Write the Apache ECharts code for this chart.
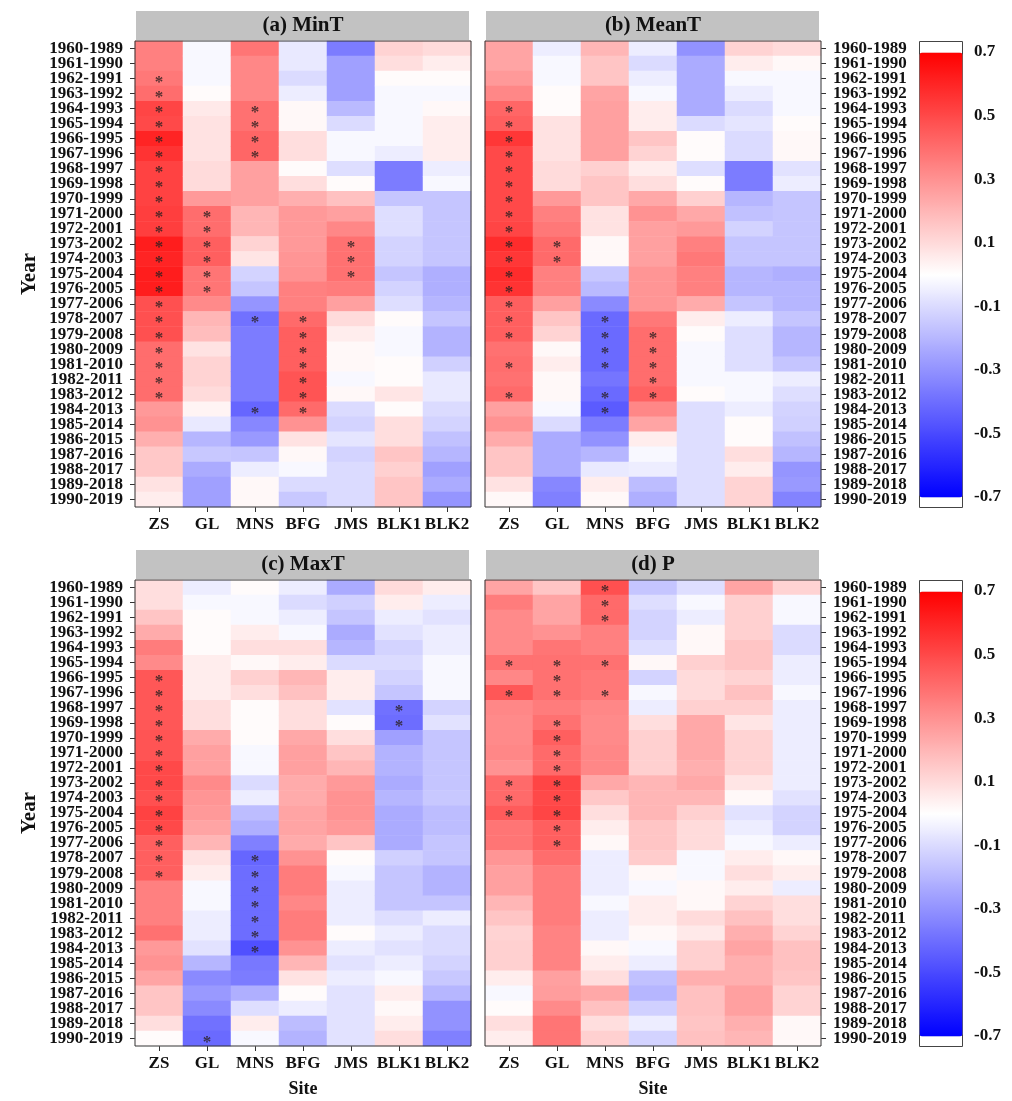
<!DOCTYPE html>
<html><head><meta charset="utf-8">
<script src="https://cdn.jsdelivr.net/npm/echarts/dist/echarts.min.js"></script>
<style>html,body{margin:0;padding:0;background:#fff}#c{width:1012px;height:1101px}</style>
</head><body><div id="c"></div><script>
const SITES = ['ZS','GL','MNS','BFG','JMS','BLK1','BLK2'];
const YEARS = ['1960-1989','1961-1990','1962-1991','1963-1992','1964-1993','1965-1994','1966-1995','1967-1996',
  '1968-1997','1969-1998','1970-1999','1971-2000','1972-2001','1973-2002','1974-2003','1975-2004','1976-2005',
  '1977-2006','1978-2007','1979-2008','1980-2009','1981-2010','1982-2011','1983-2012','1984-2013','1985-2014',
  '1986-2015','1987-2016','1988-2017','1989-2018','1990-2019'];
const TITLES = ['(a) MinT','(b) MeanT','(c) MaxT','(d) P'];
const CBAR_TICKS = [-0.7,-0.5,-0.3,-0.1,0.1,0.3,0.5,0.7];

// (a) MinT, one row per site (ZS, GL, MNS, BFG, JMS, BLK1, BLK2), 31 moving windows each
const MINT = [
 [0.35,0.35,0.37,0.40,0.51,0.50,0.60,0.56,0.52,0.52,0.52,0.53,0.53,0.62,0.60,0.62,0.62,0.48,0.48,0.48,0.40,0.40,0.40,0.40,0.28,0.30,0.22,0.15,0.15,0.08,0.05],
 [-0.02,-0.02,-0.02,0.01,0.06,0.08,0.08,0.08,0.10,0.10,0.28,0.40,0.40,0.44,0.44,0.38,0.38,0.32,0.20,0.18,0.08,0.12,0.12,0.10,0.03,-0.06,-0.20,-0.15,-0.23,-0.26,-0.26],
 [0.38,0.33,0.33,0.33,0.39,0.39,0.42,0.42,0.26,0.26,0.26,0.20,0.20,0.12,0.07,-0.12,-0.16,-0.29,-0.39,-0.36,-0.36,-0.36,-0.36,-0.36,-0.42,-0.33,-0.28,-0.16,-0.05,0.02,0.02],
 [-0.06,-0.06,-0.10,-0.05,0.02,0.02,0.09,0.09,0.01,0.09,0.22,0.28,0.28,0.28,0.29,0.30,0.35,0.35,0.41,0.44,0.44,0.44,0.47,0.47,0.41,0.30,0.08,0.02,-0.02,-0.10,-0.15],
 [-0.36,-0.26,-0.26,-0.26,-0.19,-0.10,-0.02,-0.02,-0.09,0.01,0.17,0.26,0.33,0.39,0.39,0.39,0.36,0.26,0.10,0.05,0.02,0.02,-0.02,0.02,-0.10,-0.12,-0.07,-0.12,-0.10,-0.10,-0.10],
 [0.12,0.09,0.01,-0.02,-0.02,-0.02,-0.02,-0.05,-0.36,-0.36,-0.16,-0.09,-0.09,-0.12,-0.12,-0.16,-0.12,-0.09,0.01,-0.02,-0.02,0.01,0.01,0.07,0.01,0.09,0.09,0.16,0.13,0.16,0.16],
 [0.10,0.05,0.01,-0.02,0.02,0.05,0.05,0.05,-0.05,-0.02,-0.16,-0.16,-0.16,-0.16,-0.16,-0.22,-0.22,-0.20,-0.16,-0.21,-0.21,-0.13,-0.06,-0.06,-0.10,-0.12,-0.17,-0.20,-0.26,-0.23,-0.29]
];
// (b) MeanT
const MEANT = [
 [0.25,0.25,0.28,0.33,0.42,0.44,0.55,0.50,0.50,0.50,0.50,0.50,0.51,0.58,0.55,0.58,0.56,0.44,0.44,0.44,0.39,0.40,0.39,0.41,0.26,0.30,0.23,0.16,0.16,0.08,0.02],
 [-0.05,-0.02,-0.02,0.01,0.01,0.08,0.08,0.08,0.10,0.10,0.28,0.35,0.37,0.41,0.41,0.35,0.35,0.26,0.16,0.12,0.02,0.05,0.02,0.02,-0.02,-0.10,-0.23,-0.23,-0.23,-0.33,-0.35],
 [0.20,0.16,0.16,0.25,0.26,0.26,0.26,0.26,0.13,0.16,0.16,0.08,0.08,0.02,0.02,-0.15,-0.19,-0.32,-0.41,-0.41,-0.41,-0.41,-0.38,-0.41,-0.45,-0.36,-0.30,-0.20,-0.06,0.05,0.02],
 [-0.05,-0.10,-0.05,-0.02,0.05,0.05,0.16,0.12,0.05,0.09,0.24,0.30,0.26,0.26,0.26,0.29,0.29,0.29,0.37,0.40,0.40,0.40,0.40,0.43,0.33,0.25,0.05,-0.02,-0.05,-0.18,-0.22],
 [-0.30,-0.23,-0.23,-0.23,-0.23,-0.10,0.01,0.01,-0.09,0.01,0.13,0.24,0.28,0.35,0.37,0.35,0.35,0.23,0.05,0.01,-0.02,-0.02,-0.02,0.01,-0.09,-0.09,-0.09,-0.09,-0.09,-0.09,-0.09],
 [0.12,0.05,-0.02,-0.05,-0.10,-0.07,-0.10,-0.10,-0.36,-0.36,-0.20,-0.17,-0.12,-0.16,-0.16,-0.20,-0.20,-0.16,-0.05,-0.09,-0.09,-0.09,-0.02,-0.02,-0.05,0.01,0.01,0.09,0.05,0.12,0.12],
 [0.10,0.02,-0.02,-0.02,-0.02,0.01,0.02,0.02,-0.08,-0.05,-0.16,-0.16,-0.16,-0.16,-0.16,-0.22,-0.20,-0.20,-0.16,-0.20,-0.20,-0.16,-0.05,-0.09,-0.12,-0.13,-0.17,-0.20,-0.29,-0.28,-0.34]
];
// (c) MaxT
const MAXT = [
 [0.09,0.09,0.16,0.23,0.36,0.32,0.46,0.46,0.46,0.46,0.47,0.47,0.50,0.50,0.48,0.52,0.50,0.44,0.44,0.44,0.35,0.35,0.35,0.39,0.28,0.30,0.25,0.16,0.16,0.09,0.01],
 [-0.05,-0.02,0.01,0.01,0.01,0.05,0.05,0.05,0.09,0.09,0.23,0.26,0.26,0.32,0.29,0.28,0.25,0.20,0.08,0.05,-0.02,-0.02,-0.05,-0.05,-0.08,-0.20,-0.32,-0.28,-0.32,-0.39,-0.41],
 [0.01,-0.02,-0.02,0.05,0.09,0.02,0.13,0.09,0.01,0.01,0.01,-0.02,-0.02,-0.10,-0.05,-0.18,-0.22,-0.35,-0.42,-0.40,-0.40,-0.40,-0.40,-0.40,-0.48,-0.37,-0.36,-0.22,-0.09,0.05,-0.02],
 [-0.05,-0.10,-0.05,-0.02,0.09,0.05,0.20,0.17,0.09,0.09,0.24,0.26,0.26,0.23,0.23,0.25,0.25,0.23,0.30,0.36,0.36,0.33,0.36,0.36,0.30,0.20,0.08,0.01,-0.05,-0.18,-0.21],
 [-0.23,-0.13,-0.16,-0.23,-0.20,-0.10,0.05,0.05,-0.08,0.01,0.09,0.16,0.20,0.28,0.30,0.30,0.28,0.16,0.01,-0.02,-0.05,-0.05,-0.05,0.01,-0.05,-0.08,-0.05,-0.08,-0.08,-0.08,-0.08],
 [0.10,0.05,-0.05,-0.08,-0.12,-0.10,-0.12,-0.16,-0.39,-0.40,-0.26,-0.21,-0.21,-0.23,-0.20,-0.23,-0.23,-0.23,-0.13,-0.16,-0.16,-0.16,-0.09,-0.05,-0.08,-0.05,-0.02,0.05,0.02,0.05,0.09],
 [0.05,-0.05,-0.08,-0.05,-0.05,-0.02,-0.02,-0.02,-0.12,-0.08,-0.16,-0.16,-0.16,-0.16,-0.15,-0.18,-0.18,-0.16,-0.16,-0.21,-0.21,-0.16,-0.05,-0.10,-0.10,-0.12,-0.15,-0.20,-0.30,-0.30,-0.35]
];
// (d) P
const PREC = [
 [0.25,0.36,0.32,0.32,0.32,0.39,0.33,0.46,0.33,0.32,0.32,0.33,0.30,0.41,0.41,0.45,0.38,0.38,0.29,0.26,0.26,0.20,0.16,0.12,0.13,0.13,0.05,-0.02,0.01,0.09,0.05],
 [0.16,0.25,0.25,0.30,0.38,0.39,0.39,0.39,0.36,0.39,0.44,0.41,0.41,0.51,0.50,0.51,0.44,0.44,0.40,0.36,0.36,0.36,0.36,0.34,0.34,0.34,0.26,0.27,0.32,0.38,0.38],
 [0.48,0.41,0.41,0.35,0.35,0.39,0.37,0.37,0.33,0.32,0.32,0.33,0.33,0.24,0.15,0.09,0.05,0.02,-0.05,-0.05,-0.05,-0.02,-0.05,-0.05,0.02,0.05,0.09,0.24,0.17,0.09,0.13],
 [-0.16,-0.09,-0.12,-0.12,-0.09,0.02,-0.12,-0.02,-0.05,0.09,0.13,0.13,0.13,0.20,0.20,0.20,0.16,0.16,0.14,0.02,-0.02,0.05,0.05,0.02,-0.02,-0.05,-0.17,-0.20,-0.13,-0.05,-0.12],
 [-0.09,-0.02,-0.05,0.02,0.02,0.13,0.10,0.10,0.13,0.24,0.24,0.24,0.22,0.24,0.20,0.13,0.10,0.10,-0.02,-0.02,0.02,0.02,0.10,0.06,0.13,0.13,0.22,0.17,0.17,0.16,0.17],
 [0.25,0.13,0.13,0.13,0.16,0.16,0.12,0.17,0.13,0.07,0.12,0.12,0.12,0.07,0.02,-0.08,-0.05,-0.02,0.05,0.09,0.05,0.12,0.17,0.22,0.25,0.22,0.22,0.26,0.26,0.22,0.20],
 [0.12,-0.02,-0.02,-0.10,-0.10,-0.05,-0.05,-0.02,-0.05,-0.05,-0.05,-0.05,-0.05,-0.05,-0.08,-0.12,-0.12,-0.05,0.02,0.05,-0.05,0.09,0.09,0.12,0.17,0.17,0.16,0.12,0.12,0.02,0.02]
];
// significant windows (row indices) per site, marked with *
const SIG_MINT  = {ZS:[2,3,4,5,6,7,8,9,10,11,12,13,14,15,16,17,18,19,20,21,22,23], GL:[11,12,13,14,15,16], MNS:[4,5,6,7,18,24], BFG:[18,19,20,21,22,23,24], JMS:[13,14,15]};
const SIG_MEANT = {ZS:[4,5,6,7,8,9,10,11,12,13,14,15,16,17,18,19,21,23], GL:[13,14], MNS:[18,19,20,21,23,24], BFG:[19,20,21,22,23]};
const SIG_MAXT  = {ZS:[6,7,8,9,10,11,12,13,14,15,16,17,18,19], GL:[30], MNS:[18,19,20,21,22,23,24], BLK1:[8,9]};
const SIG_P     = {ZS:[5,7,13,14,15], GL:[5,6,7,9,10,11,12,13,14,15,16,17], MNS:[0,1,2,5,7]};

const PANELS = [MINT, MEANT, MAXT, PREC];
const SIGS = [SIG_MINT, SIG_MEANT, SIG_MAXT, SIG_P];

// layout
const FONT = 'Liberation Serif';
const PX = [135, 485], PW = 336, PY = [41, 580], PH = 466;
const CB_X = 919, CB_W = 43, CB_CAP = 11;

const chart = echarts.init(document.getElementById('c'), null, {renderer: 'canvas'});
const grid = [], xAxis = [], yAxis = [], series = [], graphic = [];
const lbl = {fontFamily: FONT, fontWeight: 'bold', fontSize: 17, color: '#111'};

for (let p = 0; p < 4; p++) {
  const col = p % 2, row = Math.floor(p / 2);
  const left = PX[col], top = PY[row];
  grid.push({left: left, top: top, width: PW, height: PH, containLabel: false});
  xAxis.push({gridIndex: p, type: 'category', data: SITES, position: 'bottom',
    axisLine: {show: false}, splitLine: {show: false},
    axisTick: {show: true, alignWithLabel: true, length: 5, lineStyle: {color: '#333'}},
    axisLabel: Object.assign({interval: 0, margin: 9}, lbl),
    name: row === 1 ? 'Site' : '', nameLocation: 'middle', nameGap: 34,
    nameTextStyle: {fontFamily: FONT, fontWeight: 'bold', fontSize: 18, color: '#111'}});
  yAxis.push({gridIndex: p, type: 'category', data: YEARS, inverse: true, position: col === 0 ? 'left' : 'right',
    axisLine: {show: false}, splitLine: {show: false},
    axisTick: {show: true, alignWithLabel: true, length: 5, lineStyle: {color: '#333'}},
    axisLabel: Object.assign({interval: 0, margin: 12}, lbl),
    name: col === 0 ? 'Year' : '', nameLocation: 'middle', nameGap: 95,
    nameTextStyle: {fontFamily: FONT, fontWeight: 'bold', fontSize: 21, color: '#111'}});
  const data = [];
  PANELS[p].forEach((vals, s) => vals.forEach((v, r) => data.push([s, r, v])));
  series.push({type: 'heatmap', xAxisIndex: p, yAxisIndex: p, data: data, silent: true,
    itemStyle: {borderWidth: 0}, emphasis: {disabled: true}, progressive: 0});
  // header strip and frame
  graphic.push({type: 'rect', shape: {x: left + 1, y: top - 30, width: PW - 3, height: 29}, style: {fill: '#c2c2c2'}, silent: true, z: 5});
  graphic.push({type: 'text', x: left + PW / 2, y: top - 15,
    style: {text: TITLES[p], font: 'bold 21px "Liberation Serif"', fill: '#111', align: 'center', verticalAlign: 'middle', textAlign: 'center', textVerticalAlign: 'middle'}, silent: true, z: 6});
  graphic.push({type: 'rect', shape: {x: left, y: top, width: PW, height: PH}, style: {fill: 'none', stroke: '#333', lineWidth: 1}, silent: true, z: 50});
}
// significance asterisks
for (let p = 0; p < 4; p++) {
  const data = [];
  Object.keys(SIGS[p]).forEach(site => SIGS[p][site].forEach(r => data.push([SITES.indexOf(site), r])));
  series.push({type: 'scatter', xAxisIndex: p, yAxisIndex: p, data: data, silent: true, symbolSize: 1,
    itemStyle: {color: 'rgba(0,0,0,0)'}, z: 10,
    label: {show: true, formatter: '*', position: 'inside', offset: [0, 4], fontFamily: FONT, fontWeight: 'bold', fontSize: 17, color: '#2a2020'}});
}
// colour-bar tick axes
for (let k = 0; k < 2; k++) {
  const gi = 4 + k;
  grid.push({left: CB_X, top: PY[k] + CB_CAP, width: CB_W, height: PH - 2 * CB_CAP + 1});
  xAxis.push({gridIndex: gi, type: 'value', show: false, min: 0, max: 1});
  yAxis.push({gridIndex: gi, type: 'value', position: 'right', min: CBAR_TICKS[0], max: CBAR_TICKS[CBAR_TICKS.length - 1], interval: 0.2,
    axisLine: {show: false}, splitLine: {show: false},
    axisTick: {show: true, length: 5, lineStyle: {color: '#333'}},
    axisLabel: Object.assign({margin: 12, formatter: v => (Math.round(v * 10) / 10).toFixed(1)}, lbl)});
}
const vm = (idx, top) => ({type: 'continuous', seriesIndex: idx, min: -0.7, max: 0.7, calculable: false, hoverLink: false,
  orient: 'vertical', left: CB_X, top: top, itemWidth: CB_W, itemHeight: PH - 2 * CB_CAP + 1,
  padding: [CB_CAP, 0, CB_CAP - 1, 0], backgroundColor: '#fff', borderColor: '#444', borderWidth: 1,
  inRange: {color: ['#0000ff', '#ffffff', '#ff0000']}, text: null});

chart.setOption({
  animation: false,
  backgroundColor: '#fff',
  grid: grid, xAxis: xAxis, yAxis: yAxis,
  visualMap: [vm([0, 1], PY[0]), vm([2, 3], PY[1])],
  series: series,
  graphic: graphic
});
</script></body></html>
